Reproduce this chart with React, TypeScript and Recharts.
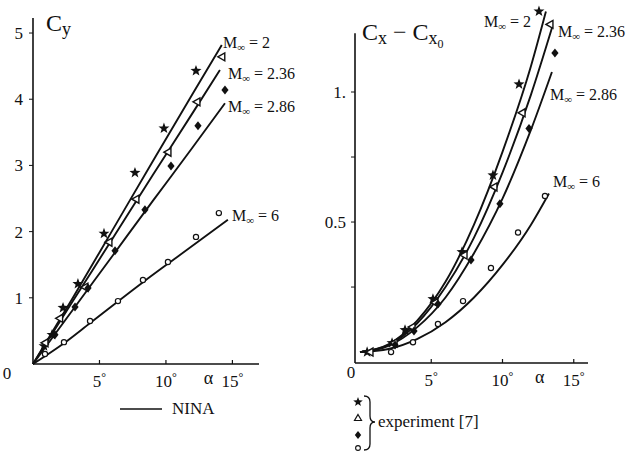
import { ComposedChart, Line, Scatter, XAxis, YAxis, ReferenceLine } from "recharts";

const font = "Liberation Serif, Times New Roman, serif";
const txt = { fontFamily: font };

// alpha (deg), value pairs
const cyNinaM2 = [[0, 0], [3, 1.0], [6, 2.03], [9, 3.06], [12, 4.08], [14.2, 4.82]];
const cyNinaM236 = [[0, 0], [3, 0.95], [6, 1.9], [9, 2.85], [12, 3.79], [14.06, 4.44]];
const cyNinaM286 = [[0, 0], [3, 0.82], [6, 1.64], [9, 2.46], [12, 3.27], [14.44, 3.94]];
const cyNinaM6 = [[0, 0], [2.3, 0.31], [4.3, 0.62], [8.3, 1.24], [11, 1.64], [14.66, 2.18]];

const cyExpM2 = [[0.83, 0.27], [1.43, 0.44], [2.26, 0.85], [3.38, 1.21], [5.34, 1.97], [7.67, 2.89], [9.85, 3.56], [12.26, 4.43]];
const cyExpM236 = [[0.9, 0.32], [2.0, 0.69], [3.9, 1.16], [5.71, 1.84], [7.74, 2.49], [10.15, 3.2], [12.33, 3.96], [14.2, 4.64]];
const cyExpM286 = [[1.65, 0.44], [3.16, 0.86], [4.14, 1.15], [6.17, 1.71], [8.42, 2.33], [10.38, 2.99], [12.41, 3.6], [14.44, 4.14]];
const cyExpM6 = [[0.9, 0.15], [2.33, 0.33], [4.29, 0.65], [6.39, 0.95], [8.27, 1.27], [10.15, 1.54], [12.26, 1.92], [13.98, 2.28]];

const cxNinaM2 = [[0, 0], [2, 0.03], [4, 0.12], [6, 0.27], [8, 0.49], [10, 0.77], [12, 1.1], [13.05, 1.31]];
const cxNinaM236 = [[0, 0], [2, 0.027], [4, 0.11], [6, 0.25], [8, 0.44], [10, 0.69], [12, 0.99], [13.47, 1.246]];
const cxNinaM286 = [[0, 0], [2, 0.024], [4, 0.095], [6, 0.21], [8, 0.38], [10, 0.59], [12, 0.855], [13.47, 1.077]];
const cxNinaM6 = [[0, 0], [2, 0.012], [4, 0.05], [6, 0.115], [8, 0.21], [10, 0.335], [12, 0.49], [13.26, 0.61]];

const cxExpM2 = [[0.5, 0.0], [2.25, 0.035], [3.16, 0.085], [5.12, 0.204], [7.16, 0.385], [9.33, 0.68], [11.16, 1.03], [12.56, 1.31]];
const cxExpM236 = [[0.7, 0.0], [2.39, 0.035], [3.65, 0.096], [5.26, 0.19], [7.3, 0.373], [9.4, 0.635], [11.37, 0.92], [13.33, 1.26]];
const cxExpM286 = [[2.46, 0.027], [3.79, 0.081], [5.47, 0.185], [7.79, 0.354], [9.82, 0.57], [11.86, 0.86], [13.68, 1.15]];
const cxExpM6 = [[2.18, 0.0], [3.72, 0.038], [5.47, 0.108], [7.23, 0.196], [9.19, 0.323], [11.09, 0.46], [12.98, 0.6]];

const alphaTicks = [0, 5, 10, 15];
const cyTicks = [1, 2, 3, 4, 5];
const cxTicks = [0.25, 0.5, 0.75, 1];

const rows = (pairs: number[][]) => pairs.map(([a, v]) => ({ a, v }));

function star(cx: number, cy: number, ro: number, ri: number) {
  let d = "";
  for (let i = 0; i < 10; i++) {
    const r = i % 2 === 0 ? ro : ri;
    const ang = -Math.PI / 2 + (i * Math.PI) / 5;
    d += (i === 0 ? "M" : "L") + (cx + r * Math.cos(ang)).toFixed(2) + "," + (cy + r * Math.sin(ang)).toFixed(2);
  }
  return d + "Z";
}

const StarMark = (p: any) => <path d={star(p.cx, p.cy, 5.8, 2.4)} fill="#111" />;
const TriMark = (p: any) => (
  <path d={`M${p.cx - 4},${p.cy}L${p.cx + 3},${p.cy - 4}L${p.cx + 3},${p.cy + 4}Z`} fill="#fff" stroke="#111" strokeWidth={1.4} />
);
const DiaMark = (p: any) => (
  <path d={`M${p.cx},${p.cy - 4.5}L${p.cx + 3.6},${p.cy}L${p.cx},${p.cy + 4.5}L${p.cx - 3.6},${p.cy}Z`} fill="#111" />
);
const CircMark = (p: any) => <circle cx={p.cx} cy={p.cy} r={2.6} fill="#fff" stroke="#111" strokeWidth={1.2} />;

function AlphaTick({ x, y, payload, zeroDx, alphaDx }: any) {
  const v = payload.value;
  if (v === 0) {
    return (
      <text x={x + zeroDx} y={y + 15} fontSize={17} style={txt} textAnchor="middle" fill="#111">
        0
      </text>
    );
  }
  return (
    <g>
      <line x1={x} y1={y} x2={x} y2={y - 4} stroke="#111" strokeWidth={1.2} />
      <text x={x} y={y + 23} fontSize={17} style={txt} textAnchor="middle" fill="#111">
        {v}
        <tspan fontSize={12} dy={-6}>°</tspan>
      </text>
      {v === 15 && (
        <text x={x + alphaDx} y={y + 20} fontSize={18} style={txt} textAnchor="middle" fill="#111">
          α
        </text>
      )}
    </g>
  );
}

function MLabel({ x, y, val }: { x: number; y: number; val: string }) {
  return (
    <text x={x} y={y} fontSize={16} style={txt} fill="#111">
      M<tspan fontSize={11} dy={3}>∞</tspan>
      <tspan dy={-3}>{" = " + val}</tspan>
    </text>
  );
}

const lineProps = { type: "monotone" as const, dataKey: "v", stroke: "#111", strokeWidth: 1.9, dot: false, isAnimationActive: false };
const tickText = { fontSize: 17, fontFamily: font, fill: "#111", style: txt };

export default function App() {
  return (
    <div style={{ position: "absolute", left: 0, top: 0, width: 637, height: 453, background: "#fff", overflow: "hidden", fontFamily: font }}>
      <div style={{ position: "absolute", left: 0, top: 0 }}>
        <ComposedChart width={320} height={453} margin={{ top: 18, right: 61, bottom: 59, left: 0 }}>
          <XAxis
            type="number"
            dataKey="a"
            domain={[0, 17]}
            ticks={alphaTicks}
            height={30}
            tickSize={0}
            tickMargin={0}
            tickLine={false}
            axisLine={{ stroke: "#111", strokeWidth: 1.6 }}
            tick={<AlphaTick zeroDx={-26} alphaDx={-24} />}
            interval={0}
          />
          <YAxis
            type="number"
            dataKey="v"
            domain={[0, 5.227]}
            ticks={cyTicks}
            width={33}
            tickSize={4}
            tickMargin={6}
            axisLine={{ stroke: "#111", strokeWidth: 1.6 }}
            tickLine={{ stroke: "#111" }}
            tick={tickText}
            interval={0}
          />
          <Line data={rows(cyNinaM2)} {...lineProps} />
          <Line data={rows(cyNinaM236)} {...lineProps} />
          <Line data={rows(cyNinaM286)} {...lineProps} />
          <Line data={rows(cyNinaM6)} {...lineProps} />
          <Scatter data={rows(cyExpM2)} dataKey="v" shape={StarMark} isAnimationActive={false} />
          <Scatter data={rows(cyExpM236)} dataKey="v" shape={TriMark} isAnimationActive={false} />
          <Scatter data={rows(cyExpM286)} dataKey="v" shape={DiaMark} isAnimationActive={false} />
          <Scatter data={rows(cyExpM6)} dataKey="v" shape={CircMark} isAnimationActive={false} />
        </ComposedChart>
      </div>
      <div style={{ position: "absolute", left: 320, top: 0 }}>
        <ComposedChart width={317} height={453} margin={{ top: 8, right: 49, bottom: 60, left: 0 }}>
          <XAxis
            type="number"
            dataKey="a"
            domain={[-0.35, 16]}
            ticks={alphaTicks}
            height={30}
            tickSize={0}
            tickMargin={0}
            tickLine={false}
            axisLine={{ stroke: "#111", strokeWidth: 1.6 }}
            tick={<AlphaTick zeroDx={-9} alphaDx={-34} />}
            interval={0}
          />
          <YAxis
            type="number"
            dataKey="v"
            domain={[-0.042, 1.323]}
            ticks={cxTicks}
            width={35}
            tickSize={4}
            tickMargin={5}
            axisLine={false}
            tickLine={{ stroke: "#111" }}
            tick={tickText}
            tickFormatter={(v: number) => (v === 1 ? "1." : v === 0.5 ? "0.5" : "")}
            interval={0}
          />
          <ReferenceLine
            segment={[{ x: -0.35, y: -0.042 }, { x: -0.35, y: 1.226 }]}
            stroke="#111"
            strokeWidth={1.6}
          />
          <Line data={rows(cxNinaM2)} {...lineProps} />
          <Line data={rows(cxNinaM236)} {...lineProps} />
          <Line data={rows(cxNinaM286)} {...lineProps} />
          <Line data={rows(cxNinaM6)} {...lineProps} />
          <Scatter data={rows(cxExpM2)} dataKey="v" shape={StarMark} isAnimationActive={false} />
          <Scatter data={rows(cxExpM236)} dataKey="v" shape={TriMark} isAnimationActive={false} />
          <Scatter data={rows(cxExpM286)} dataKey="v" shape={DiaMark} isAnimationActive={false} />
          <Scatter data={rows(cxExpM6)} dataKey="v" shape={CircMark} isAnimationActive={false} />
        </ComposedChart>
      </div>
      <svg width={637} height={453} style={{ position: "absolute", left: 0, top: 0, pointerEvents: "none" }}>
        <text x={46} y={31} fontSize={24} style={txt} fill="#111">
          C<tspan fontSize={18} dy={4}>y</tspan>
        </text>
        <text x={362} y={40} fontSize={24} style={txt} fill="#111">
          C<tspan fontSize={18} dy={4}>x</tspan>
          <tspan dy={-4}>{" − C"}</tspan>
          <tspan fontSize={18} dy={4}>x</tspan>
          <tspan fontSize={12} dy={4}>0</tspan>
        </text>
        <MLabel x={223} y={48} val="2" />
        <MLabel x={228} y={79} val="2.36" />
        <MLabel x={228} y={112} val="2.86" />
        <MLabel x={232} y={221} val="6" />
        <MLabel x={484} y={27} val="2" />
        <MLabel x={558} y={37} val="2.36" />
        <MLabel x={550} y={100} val="2.86" />
        <MLabel x={553} y={187} val="6" />

        <line x1={120} y1={409} x2={162} y2={409} stroke="#111" strokeWidth={1.5} />
        <text x={172} y={414} fontSize={17} style={txt} fill="#111">NINA</text>

        <path d={star(358, 402, 5, 2.1)} fill="#111" />
        <path d="M358,414.5L361.5,420.5L354.5,420.5Z" fill="#fff" stroke="#111" strokeWidth={1.2} />
        <path d="M358,431L361.2,435L358,439L354.8,435Z" fill="#111" />
        <circle cx={358} cy={448} r={2.4} fill="#fff" stroke="#111" strokeWidth={1.1} />
        <path d="M364,396 Q370,396 370,402 L370,416 Q370,422 375,422 Q370,422 370,428 L370,444 Q370,450 364,450" fill="none" stroke="#111" strokeWidth={1.3} />
        <text x={378} y={427} fontSize={17} style={txt} fill="#111">experiment [7]</text>
      </svg>
    </div>
  );
}
